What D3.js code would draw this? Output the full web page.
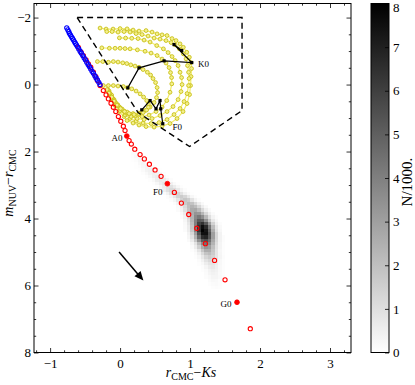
<!DOCTYPE html>
<html><head><meta charset="utf-8">
<script src="https://cdn.jsdelivr.net/npm/d3@7"></script>
<style>
body{margin:0;background:#fff}
svg{display:block}
text{font-family:"Liberation Serif","DejaVu Serif",serif;fill:#000}
</style>
</head><body>
<svg id="c" width="415" height="385"></svg>
<script>
// ---------------- DATA ----------------
const xTicks = [-1, 0, 1, 2, 3];
const yTicks = [-2, 0, 2, 4, 6, 8];
const cbTicks = [0, 1, 2, 3, 4, 5, 6, 7, 8];
const xDomain = [-1.23, 3.3];
const yDomain = [-2.42, 8];
const cbDomain = [0, 8];

// blue model sequence (open circles)
const blueSeq = [[-0.762,-1.693],[-0.747,-1.633],[-0.733,-1.582],[-0.724,-1.531],[-0.71,-1.484],[-0.696,-1.433],
[-0.681,-1.382],[-0.667,-1.334],[-0.653,-1.284],[-0.639,-1.233],[-0.624,-1.185],[-0.61,-1.134],[-0.59,-1.065],
[-0.571,-0.994],[-0.553,-0.934],[-0.533,-0.866],[-0.514,-0.797],[-0.496,-0.737],[-0.476,-0.666],[-0.457,-0.597],
[-0.439,-0.537],[-0.419,-0.466],[-0.4,-0.394],[-0.381,-0.334],[-0.361,-0.266],[-0.343,-0.197],[-0.324,-0.137],
[-0.304,-0.066],[-0.286,0.0]];

// red dwarf sequence (open circles)
const redSeq = [[-0.596,-1.113],[-0.557,-0.964],[-0.524,-0.866],[-0.486,-0.737],[-0.453,-0.618],[-0.419,-0.516],
[-0.381,-0.367],[-0.347,-0.239],[-0.324,-0.119],[-0.286,0.03],[-0.239,0.179],[-0.2,0.307],[-0.167,0.427],
[-0.129,0.558],[-0.096,0.678],[-0.061,0.806],[-0.024,0.955],[0.01,1.096],[0.047,1.245],[0.071,1.373],
[0.129,1.672],[0.161,1.776],[0.21,1.93],[0.286,2.09],[0.347,2.22],[0.419,2.38],[0.5,2.55],[0.586,2.74],
[0.776,3.22],[0.876,3.54],[0.981,3.88],[1.096,4.29],[1.219,4.75],[1.35,5.25],[1.5,5.83],[1.861,7.29]];
// filled red points (A0, F0, G0)
const redFilled = [[0.096,1.537],[0.676,2.96],[1.671,6.5]];

// yellow model tracks
const track1 = [[-0.286,-1.687],[-0.2,-1.657],[-0.1,-1.657],[0,-1.672],[0.1,-1.663],[0.186,-1.627],[0.271,-1.597],
[0.371,-1.612],[0.457,-1.567],[0.529,-1.513],[0.6,-1.484],[0.671,-1.463],[0.743,-1.373],[0.8,-1.313],[0.857,-1.215],
[0.904,-1.113],[0.953,-0.964],[0.99,-0.815],[1.014,-0.657],[1.021,-0.478],[1.014,-0.239],[1.007,0.03],[0.993,0.299],
[0.957,0.567],[0.9,0.806],[0.814,1.015],[0.714,1.164],[0.6,1.239],[0.486,1.269],[0.371,1.254],[0.271,1.209],
[0.186,1.149],[0.1,1.075],[0.057,0.955],[-0.014,0.806],[-0.071,0.627],[-0.114,0.448],[-0.15,0.299]];
const track2 = [[-0.19,-1.582],[-0.114,-1.582],[-0.029,-1.567],[0.057,-1.582],[0.143,-1.567],[0.229,-1.522],
[0.314,-1.493],[0.4,-1.448],[0.486,-1.388],[0.571,-1.358],[0.657,-1.313],[0.729,-1.254],[0.786,-1.185],[0.847,-1.066],
[0.904,-0.916],[0.943,-0.767],[0.964,-0.567],[0.979,-0.367],[0.986,-0.179],[0.979,0.03],[0.957,0.269],[0.914,0.507],
[0.857,0.716],[0.771,0.896],[0.671,1.045],[0.557,1.134],[0.443,1.164],[0.329,1.149],[0.229,1.09],[0.143,1.015],
[0.071,0.91],[0,0.776],[-0.05,0.627],[-0.1,0.478],[-0.136,0.328],[-0.164,0.209]];
const track3 = [[-0.01,-1.394],[0.079,-1.388],[0.167,-1.382],[0.257,-1.373],[0.343,-1.328],[0.429,-1.269],
[0.524,-1.164],[0.619,-1.066],[0.686,-0.955],[0.743,-0.836],[0.786,-0.716],[0.829,-0.567],[0.857,-0.367],
[0.879,-0.209],[0.886,0.0],[0.871,0.209],[0.829,0.448],[0.757,0.657],[0.671,0.806],[0.571,0.925],[0.457,1.015],
[0.343,1.045],[0.243,1.015],[0.157,0.955],[0.086,0.851],[0.021,0.731],[-0.036,0.597],[-0.086,0.448],[-0.121,0.313],
[-0.157,0.194]];
const track4 = [[-0.261,-1.096],[-0.153,-1.084],[-0.071,-1.084],[0,-1.084],[0.071,-1.075],[0.143,-1.066],
[0.247,-1.036],[0.357,-0.994],[0.443,-0.94],[0.529,-0.866],[0.6,-0.761],[0.657,-0.642],[0.7,-0.507],[0.721,-0.358],
[0.736,-0.209],[0.739,-0.021],[0.714,0.23],[0.667,0.478],[0.6,0.672],[0.514,0.806],[0.414,0.91],[0.314,0.955],
[0.214,0.94],[0.129,0.881],[0.057,0.791],[-0.007,0.672],[-0.064,0.537],[-0.107,0.403],[-0.143,0.269],[-0.171,0.164]];
const track5 = [[-0.324,-0.687],[-0.247,-0.687],[-0.167,-0.666],[-0.096,-0.687],[-0.029,-0.672],[0.039,-0.648],
[0.096,-0.627],[0.153,-0.588],[0.214,-0.552],[0.271,-0.516],[0.329,-0.448],[0.39,-0.367],[0.436,-0.284],
[0.471,-0.179],[0.507,-0.06],[0.529,0.09],[0.536,0.239],[0.521,0.388],[0.486,0.537],[0.429,0.672],[0.357,0.776],
[0.271,0.851],[0.186,0.866],[0.1,0.821],[0.029,0.731],[-0.029,0.627],[-0.079,0.507],[-0.121,0.388],[-0.157,0.269],
[-0.186,0.164]];
const track6 = [[-0.239,0.03],[-0.167,0.03],[-0.096,0.03],[-0.029,0.045],[0.047,0.06],[0.107,0.09],[0.167,0.128],
[0.229,0.194],[0.286,0.278],[0.336,0.373],[0.381,0.478],[0.404,0.582],[0.404,0.678],[0.379,0.761],[0.329,0.836],
[0.271,0.881],[0.2,0.896],[0.129,0.866],[0.064,0.806],[0.007,0.716],[-0.043,0.612],[-0.086,0.493],[-0.121,0.373],
[-0.157,0.254],[-0.186,0.149]];
const yellowTracks = [track1, track2, track3, track4, track5, track6];

// black giant sequence (squares)
const giantUpper = [[0.11,0.099],[0.271,-0.499],[0.629,-0.707],[1.024,-0.657],[0.771,-1.194],[0.881,-1.015]];
const giantLower = [[0.31,0.755],[0.429,0.478],[0.514,0.725],[0.571,0.478],[0.581,0.725],[0.61,1.17]];

// dashed selection box
const boxPolygon = [[-0.614,-2.0],[1.743,-2.0],[1.743,0.776],[0.993,1.85],[0.257,0.836]];

// reddening arrow: start, tip
const arrowVec = [[-0.014,5.0],[0.333,5.85]];

// spectral-type labels: text, x, y (left / baseline)
const typeLabels = [["K0",1.114,-0.53],["F0",0.75,1.37],["A0",-0.121,1.70],["F0",0.471,3.29],["G0",1.436,6.63]];

// density histogram (N/1000), bins of 0.05 in x from 0.15 and 0.1 in y from 2.0
const densX0 = 0.15, densDX = 0.05, densY0 = 2.0, densDY = 0.1;
const densityRows = [
[0,[.12,.12,.03]],
[0,[.05,.18,.16,.04]],
[0,[.02,.1,.25,.17,.03]],
[1,[.04,.19,.3,.17,.04]],
[1,[.02,.09,.26,.35,.25,.08]],
[2,[.04,.16,.36,.45,.33,.14,.03]],
[3,[.06,.2,.39,.5,.4,.21,.07]],
[4,[.06,.22,.46,.6,.47,.22,.06]],
[5,[.06,.23,.52,.7,.6,.3,.09]],
[6,[.07,.25,.55,.78,.74,.45,.17,.04]],
[7,[.07,.26,.6,.94,.94,.6,.26,.07]],
[7,[.05,.18,.5,.92,1.18,1.08,.7,.3,.09]],
[8,[.03,.13,.42,.91,1.33,1.33,.91,.42,.13,.03]],
[10,[.08,.3,.79,1.36,1.6,1.3,.71,.26,.07]],
[11,[.08,.3,.8,1.44,1.8,1.53,.88,.35,.09]],
[12,[.1,.37,.92,1.64,2.08,1.89,1.22,.55,.18]],
[13,[.15,.49,1.16,1.97,2.4,2.07,1.28,.56,.18]],
[13,[.11,.38,.97,1.86,2.63,2.75,2.12,1.2,.5,.16]],
[14,[.19,.6,1.45,2.57,3.33,3.2,2.26,1.19,.46,.14]],
[14,[.1,.41,1.14,2.39,3.68,4.2,3.53,2.2,1.0,.34,.08]],
[15,[.29,.94,2.24,3.93,5.1,4.89,3.46,1.82,.7,.21]],
[15,[.2,.74,2.0,4.0,5.9,6.45,5.2,3.1,1.37,.44,.1]],
[15,[.15,.6,1.82,3.97,6.4,7.6,6.67,4.33,2.06,.74,.19]],
[15,[.13,.55,1.7,3.8,6.4,7.9,7.3,5.0,2.5,.9,.25]],
[16,[.37,1.25,3.0,5.5,7.5,7.5,5.5,3.0,1.25,.37]],
[16,[.28,.95,2.45,4.66,6.58,6.86,5.3,3.0,1.26,.39,.1]],
[16,[.17,.64,1.74,3.45,5.1,5.56,4.48,2.67,1.18,.38,.09]],
[17,[.27,.89,2.12,3.6,4.4,3.77,2.34,1.02,.32,.07]],
[17,[.17,.6,1.5,2.65,3.37,3.06,1.97,.92,.3,.07]],
[17,[.06,.26,.82,1.76,2.57,2.57,1.76,.82,.26,.06]],
[18,[.13,.47,1.13,1.86,2.08,1.59,.82,.29,.07]],
[18,[.06,.26,.7,1.28,1.6,1.36,.79,.31,.08]],
[19,[.13,.41,.87,1.19,1.04,.6,.22,.05]],
[19,[.06,.23,.55,.85,.85,.55,.23,.06]],
[20,[.1,.31,.6,.69,.48,.2,.05]],
[20,[.05,.17,.38,.5,.4,.2,.06]],
[21,[.13,.3,.4,.34,.17,.05]],
[21,[.08,.2,.3,.3,.2,.08]],
[22,[.13,.21,.2,.1,.03]],
[22,[.06,.14,.15,.08]],
[23,[.07,.1,.06]]
];

// ---------------- DRAWING ----------------
const svg = d3.select("#c");
const L = 34, R = 351, T = 3.5, B = 352.5;
const xS = d3.scaleLinear().domain(xDomain).range([L, R]);
const yS = d3.scaleLinear().domain(yDomain).range([T, B]);
const cS = d3.scaleLinear().domain(cbDomain).range(["#ffffff", "#000000"]);

svg.append("defs").append("clipPath").attr("id", "clip")
  .append("rect").attr("x", L).attr("y", T).attr("width", R - L).attr("height", B - T);
const plot = svg.append("g").attr("clip-path", "url(#clip)");

// density cells
const cells = [];
densityRows.forEach((row, r) => {
  row[1].forEach((v, k) => cells.push({c: row[0] + k, r: r, v: v}));
});
plot.append("g").attr("shape-rendering", "crispEdges").selectAll("rect").data(cells).join("rect")
  .attr("x", d => xS(densX0 + d.c * densDX))
  .attr("y", d => yS(densY0 + d.r * densDY))
  .attr("width", d => xS(densX0 + (d.c + 1) * densDX) - xS(densX0 + d.c * densDX) + 0.3)
  .attr("height", d => yS(densY0 + (d.r + 1) * densDY) - yS(densY0 + d.r * densDY) + 0.3)
  .attr("fill", d => cS(d.v));

// yellow tracks
const line = d3.line().x(d => xS(d[0])).y(d => yS(d[1]));
const yg = plot.append("g");
yellowTracks.forEach(tr => {
  yg.append("path").attr("d", line(tr)).attr("fill", "none").attr("stroke", "#f2ec6a").attr("stroke-width", 1.2);
});
yellowTracks.forEach(tr => {
  yg.append("g").selectAll("circle").data(tr).join("circle")
    .attr("cx", d => xS(d[0])).attr("cy", d => yS(d[1])).attr("r", 1.9)
    .attr("fill", "#f4f08c").attr("stroke", "#c8c018").attr("stroke-width", 0.9);
});

// red & blue sequences
plot.append("g").selectAll("circle").data(redSeq).join("circle")
  .attr("cx", d => xS(d[0])).attr("cy", d => yS(d[1])).attr("r", 2.1)
  .attr("fill", "none").attr("stroke", "#ff0000").attr("stroke-width", 1.1);
plot.append("g").selectAll("circle").data(blueSeq).join("circle")
  .attr("cx", d => xS(d[0])).attr("cy", d => yS(d[1])).attr("r", 2.1)
  .attr("fill", "none").attr("stroke", "#0000ff").attr("stroke-width", 1.1);
plot.append("g").selectAll("circle").data(redFilled).join("circle")
  .attr("cx", d => xS(d[0])).attr("cy", d => yS(d[1])).attr("r", 2.4)
  .attr("fill", "#ff0000").attr("stroke", "#ff0000").attr("stroke-width", 0.8);

// black giant line
[giantUpper, giantLower].forEach(seg => {
  plot.append("path").attr("d", line(seg)).attr("fill", "none").attr("stroke", "#000").attr("stroke-width", 1.2);
  plot.append("g").selectAll("rect").data(seg).join("rect")
    .attr("x", d => xS(d[0]) - 1.6).attr("y", d => yS(d[1]) - 1.6)
    .attr("width", 3.2).attr("height", 3.2).attr("fill", "#000");
});

// dashed box
plot.append("path")
  .attr("d", d3.line().x(d => xS(d[0])).y(d => yS(d[1])).curve(d3.curveLinearClosed)(boxPolygon))
  .attr("fill", "none").attr("stroke", "#000").attr("stroke-width", 1.4)
  .attr("stroke-dasharray", "6,4");

// arrow
{
  const x0 = xS(arrowVec[0][0]), y0 = yS(arrowVec[0][1]);
  const x1 = xS(arrowVec[1][0]), y1 = yS(arrowVec[1][1]);
  const dx = x1 - x0, dy = y1 - y0, len = Math.hypot(dx, dy);
  const ux = dx / len, uy = dy / len, hl = 9, hw = 4;
  const bx = x1 - ux * hl, by = y1 - uy * hl;
  plot.append("line").attr("x1", x0).attr("y1", y0).attr("x2", bx + ux).attr("y2", by + uy)
    .attr("stroke", "#000").attr("stroke-width", 1.5);
  plot.append("path")
    .attr("d", `M${x1},${y1}L${bx - uy * hw},${by + ux * hw}L${bx + uy * hw},${by - ux * hw}Z`)
    .attr("fill", "#000");
}

// type labels
plot.append("g").selectAll("text").data(typeLabels).join("text")
  .attr("x", d => xS(d[1])).attr("y", d => yS(d[2]))
  .attr("font-size", 9).text(d => d[0]);

// axes
const fmt = d => d < 0 ? "\u2212" + Math.abs(d) : String(d);
const xMinor = d3.range(-1.2, 3.31, 0.2).filter(v => Math.abs(v - Math.round(v)) > 1e-6);
const yMinor = d3.range(-2, 8.01, 0.5).filter(v => Math.abs(v / 2 - Math.round(v / 2)) > 1e-6);
function styleAxis(g) {
  g.select(".domain").remove();
  g.selectAll(".tick line").attr("stroke", "#000").attr("stroke-width", 0.8);
  g.selectAll("text").attr("font-size", 13).attr("font-family", "'Liberation Serif','DejaVu Serif',serif").attr("fill", "#000");
}
svg.append("g").attr("transform", `translate(0,${B})`)
  .call(d3.axisBottom(xS).tickValues(xTicks).tickFormat(fmt).tickSize(-4.5).tickPadding(6)).call(styleAxis);
svg.append("g").attr("transform", `translate(0,${B})`)
  .call(d3.axisBottom(xS).tickValues(xMinor).tickFormat("").tickSize(-2.2)).call(styleAxis);
svg.append("g").attr("transform", `translate(0,${T})`)
  .call(d3.axisTop(xS).tickValues(xTicks).tickFormat("").tickSize(-4.5)).call(styleAxis);
svg.append("g").attr("transform", `translate(0,${T})`)
  .call(d3.axisTop(xS).tickValues(xMinor).tickFormat("").tickSize(-2.2)).call(styleAxis);
svg.append("g").attr("transform", `translate(${L},0)`)
  .call(d3.axisLeft(yS).tickValues(yTicks).tickFormat(fmt).tickSize(-4.5).tickPadding(3)).call(styleAxis);
svg.append("g").attr("transform", `translate(${L},0)`)
  .call(d3.axisLeft(yS).tickValues(yMinor).tickFormat("").tickSize(-2.2)).call(styleAxis);
svg.append("g").attr("transform", `translate(${R},0)`)
  .call(d3.axisRight(yS).tickValues(yTicks).tickFormat("").tickSize(-4.5)).call(styleAxis);
svg.append("g").attr("transform", `translate(${R},0)`)
  .call(d3.axisRight(yS).tickValues(yMinor).tickFormat("").tickSize(-2.2)).call(styleAxis);

svg.append("rect").attr("x", L).attr("y", T).attr("width", R - L).attr("height", B - T)
  .attr("fill", "none").attr("stroke", "#000").attr("stroke-width", 1);

// axis labels
const xl = svg.append("text").attr("x", 191).attr("y", 377).attr("text-anchor", "middle").attr("font-size", 14);
xl.append("tspan").attr("font-style", "italic").text("r");
xl.append("tspan").attr("font-size", 10).attr("dy", 3).text("CMC");
xl.append("tspan").attr("dy", -3).text("\u2212");
xl.append("tspan").attr("font-style", "italic").text("Ks");

const yl = svg.append("text").attr("transform", "translate(13,183) rotate(-90)")
  .attr("text-anchor", "middle").attr("font-size", 14);
yl.append("tspan").attr("font-style", "italic").text("m");
yl.append("tspan").attr("font-size", 10).attr("dy", 3).text("NUV");
yl.append("tspan").attr("dy", -3).text("\u2212");
yl.append("tspan").attr("font-style", "italic").text("r");
yl.append("tspan").attr("font-size", 10).attr("dy", 3).text("CMC");

// colorbar
const cbL = 371, cbR = 389;
const grad = svg.select("defs").append("linearGradient").attr("id", "cbg")
  .attr("x1", 0).attr("y1", 1).attr("x2", 0).attr("y2", 0);
grad.append("stop").attr("offset", "0%").attr("stop-color", cS(cbDomain[0]));
grad.append("stop").attr("offset", "100%").attr("stop-color", cS(cbDomain[1]));
const cbY = d3.scaleLinear().domain(cbDomain).range([B, T]);
svg.append("rect").attr("x", cbL).attr("y", T).attr("width", cbR - cbL).attr("height", B - T)
  .attr("fill", "url(#cbg)").attr("stroke", "#000").attr("stroke-width", 1);
const cbAxis = svg.append("g").attr("transform", `translate(${cbR},0)`)
  .call(d3.axisRight(cbY).tickValues(cbTicks).tickFormat(fmt).tickSize(-4).tickPadding(4)).call(styleAxis);
cbAxis.selectAll(".tick text").filter(d => d === cbDomain[1]).attr("dy", "0.62em");
svg.append("text").attr("transform", "translate(412,182) rotate(-90)")
  .attr("text-anchor", "middle").attr("font-size", 15).text("N/1000.");
</script>
</body></html>
